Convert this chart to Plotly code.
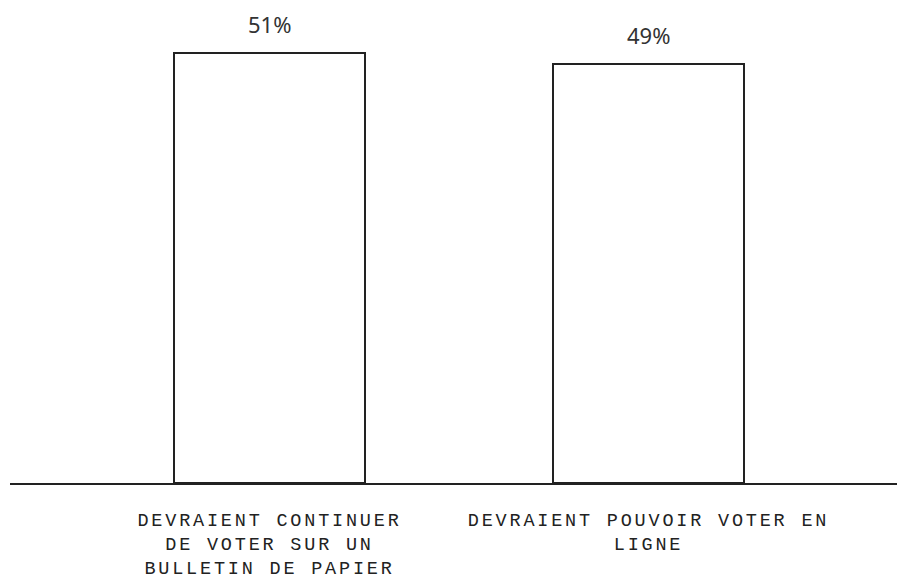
import plotly.graph_objects as go

categories = [
    "DEVRAIENT CONTINUER<br>DE VOTER SUR UN<br>BULLETIN DE PAPIER",
    "DEVRAIENT POUVOIR VOTER EN<br>LIGNE",
]
values = [50.6, 49.4]
value_labels = ["51%", "49%"]

fig = go.Figure()
fig.add_trace(go.Bar(
    x=categories,
    y=values,
    width=0.504,
    marker=dict(color="white", line=dict(color="#222222", width=2)),
    hoverinfo="skip",
))

for c, v, lab in zip(categories, values, value_labels):
    fig.add_annotation(
        x=c, y=v, text=lab, showarrow=False,
        yanchor="middle", yshift=29,
        font=dict(family="Noto Sans", size=22, color="#333333"),
    )

fig.update_layout(
    width=897, height=579,
    margin=dict(l=10, r=0, t=30, b=96),
    plot_bgcolor="white", paper_bgcolor="white",
    showlegend=False,
    bargap=0,
    xaxis=dict(
        range=[-0.6847, 1.6557],
        showline=True, linecolor="#222222", linewidth=2,
        showgrid=False, zeroline=False, ticks="",
        ticklabelstandoff=19,
        automargin=False,
        tickfont=dict(family="Liberation Mono", size=18.5, color="#222222"),
        fixedrange=True,
    ),
    yaxis=dict(
        range=[0, 53.36], visible=False, showgrid=False, zeroline=False,
        fixedrange=True, automargin=False,
    ),
)

post = """
document.body.style.margin = '0';
document.body.style.overflow = 'hidden';
var gd = document.getElementById('{plot_id}');
function ls(){
  gd.querySelectorAll('.xtick text').forEach(function(t){ t.style.letterSpacing = '2.8px'; });
}
ls();
gd.on('plotly_afterplot', ls);
"""

fig.write_html("out.html", config={"displayModeBar": False}, post_script=post)
